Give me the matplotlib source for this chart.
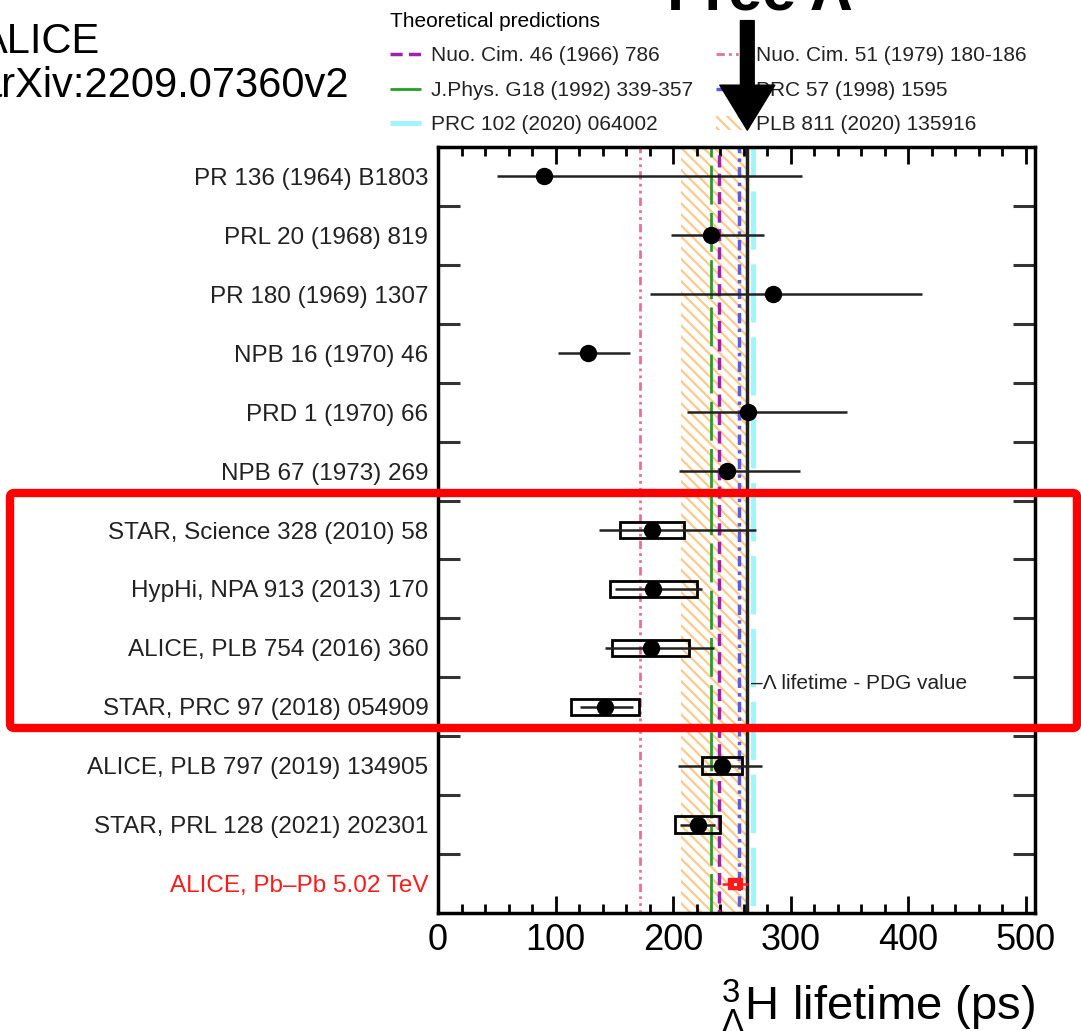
import numpy as np
import matplotlib.pyplot as plt
from matplotlib.patches import FancyBboxPatch
from matplotlib.ticker import MultipleLocator, FixedLocator

plt.rcParams['font.family'] = ['Liberation Sans', 'DejaVu Sans']
plt.rcParams['mathtext.fontset'] = 'custom'
plt.rcParams['mathtext.rm'] = 'Liberation Sans'
plt.rcParams['mathtext.it'] = 'Liberation Sans:italic'
plt.rcParams['hatch.linewidth'] = 1.6

# measurements (ps)
labels = ['PR 136 (1964) B1803', 'PRL 20 (1968) 819', 'PR 180 (1969) 1307',
          'NPB 16 (1970) 46', 'PRD 1 (1970) 66', 'NPB 67 (1973) 269',
          'STAR, Science 328 (2010) 58', 'HypHi, NPA 913 (2013) 170',
          'ALICE, PLB 754 (2016) 360', 'STAR, PRC 97 (2018) 054909',
          'ALICE, PLB 797 (2019) 134905', 'STAR, PRL 128 (2021) 202301',
          'ALICE, Pb\u2013Pb 5.02 TeV']
tau = [90, 232, 285, 128, 264, 246, 182, 183, 181, 142, 242, 221, 253]
err_lo = [40, 34, 105, 26, 52, 41, 45, 32, 39, 21, 38, 15, 11]
err_hi = [220, 45, 127, 35, 84, 62, 89, 42, 54, 24, 34, 15, 11]
syst = [np.nan] * 6 + [27, 37, 33, 29, 17, 19, 6]

# theory
th_names = ['Nuo. Cim. 46 (1966) 786', 'Nuo. Cim. 51 (1979) 180-186',
            'J.Phys. G18 (1992) 339-357', 'PRC 57 (1998) 1595',
            'PRC 102 (2020) 064002', 'PLB 811 (2020) 135916']
th_vals = [239.3, 172, 232, 256, 268]
th_band = (207, 262)
tau_lambda = 263.2

W, H = 1081, 1031
fig = plt.figure(figsize=(W / 100, H / 100), dpi=100)
ax = fig.add_axes([438 / W, 1 - 913 / H, 597 / W, 766 / H])

rows = np.arange(len(labels))
n_old = 12

# theory lines
band = ax.axvspan(th_band[0], th_band[1], facecolor='none', edgecolor='#ffc98c',
                  hatch='\\\\\\', lw=0, zorder=1, label=th_names[5])
l1, = ax.plot([th_vals[0]] * 2, [-1, 14], color='#a020b0', lw=2.5,
              ls=(0, (3.5, 1.8)), zorder=2, label=th_names[0])
l2, = ax.plot([th_vals[1]] * 2, [-1, 14], color='#e8709a', lw=2,
              ls=(0, (3, 1.5, 1, 1.5, 1, 1.5)), zorder=2, label=th_names[1])
l3, = ax.plot([th_vals[2]] * 2, [-1, 14], color='#22a022', lw=2,
              ls=(0, (14, 3)), zorder=2, label=th_names[2])
l4, = ax.plot([th_vals[3]] * 2, [-1, 14], color='#5a5ae8', lw=2.5,
              ls=(0, (3, 1.5, 1, 1.5)), zorder=2, label=th_names[3])
l5, = ax.plot([th_vals[4]] * 2, [-1, 14], color='#9ff5f8', lw=3.5,
              ls=(0, (12, 3)), zorder=1.5, label=th_names[4])
ax.axvline(tau_lambda, color='#222222', lw=2.5, zorder=2.5)

# measurements
tau = np.array(tau, dtype=float)
lo = np.array(err_lo, dtype=float)
hi = np.array(err_hi, dtype=float)
sy = np.array(syst, dtype=float)

ax.errorbar(tau[:n_old], rows[:n_old], xerr=[lo[:n_old], hi[:n_old]], fmt='o',
            color='black', ecolor='#222222', elinewidth=1.8, capsize=0,
            markersize=11.5, zorder=5)
has_sys = ~np.isnan(sy[:n_old])
ax.barh(rows[:n_old][has_sys], 2 * sy[:n_old][has_sys],
        left=tau[:n_old][has_sys] - sy[:n_old][has_sys], height=0.28,
        fill=False, edgecolor='black', lw=2, zorder=4)
ax.barh(rows[n_old:], 2 * sy[n_old:], left=tau[n_old:] - sy[n_old:],
        height=0.19, color='#ff1a1a', edgecolor='#ff1a1a', lw=1, zorder=4)
ax.errorbar(tau[n_old:], rows[n_old:], xerr=[lo[n_old:], hi[n_old:]], fmt='s',
            color='#ff1a1a', elinewidth=1.8, capsize=0, markersize=3,
            mfc='white', mec='#ff1a1a', mew=0.8, zorder=5)

ax.text(tau_lambda + 3, 8.6, '\u2013\u039b lifetime - PDG value', fontsize=15,
        va='center', ha='left', color='#222222')

# axes
ax.set_xlim(0, 508)
ax.set_ylim(12.5, -0.5)
ax.xaxis.set_major_locator(MultipleLocator(100))
ax.xaxis.set_minor_locator(MultipleLocator(20))
ax.tick_params(axis='x', which='major', direction='in', top=True, length=12,
               width=2, labelsize=26, pad=7)
ax.tick_params(axis='x', which='minor', direction='in', top=True, length=6.5,
               width=2)
ax.set_yticks(rows, labels)
ax.yaxis.set_minor_locator(FixedLocator(np.arange(0.5, 12, 1.0)))
ax.tick_params(axis='y', which='major', length=0, labelsize=17.5, pad=7,
               labelcolor='#222222')
ax.tick_params(axis='y', which='minor', direction='in', right=True, length=16,
               width=2.2, color='#333333')
ax.get_yticklabels()[-1].set_color('#ff1a1a')
for s in ax.spines.values():
    s.set_linewidth(2.5)

ax.set_xlabel(r'${}^{3}_{\Lambda}$H lifetime (ps)', loc='right', fontsize=34,
              labelpad=14)

leg = ax.legend(handles=[l1, l3, l5, l2, l4, band], ncol=2, frameon=False,
                title='Theoretical predictions', alignment='left',
                fontsize=15, title_fontsize=15, loc='upper left',
                bbox_to_anchor=(390 / W, 1 - 12 / H), bbox_transform=fig.transFigure,
                handlelength=1.5, handletextpad=0.45, columnspacing=1.1,
                labelspacing=0.74, borderpad=0, borderaxespad=0)
for t in leg.get_texts():
    t.set_color('#222222')

# arrow pointing at the free Lambda lifetime
ax.annotate('', xy=(tau_lambda, 1.022), xytext=(tau_lambda, 1.165),
            xycoords=ax.get_xaxis_transform(), textcoords=ax.get_xaxis_transform(),
            arrowprops=dict(arrowstyle='simple,head_length=0.72,head_width=0.88,tail_width=0.22',
                            fc='black', ec='black', mutation_scale=45,
                            shrinkA=0, shrinkB=0),
            annotation_clip=False, zorder=20)

fig.text(759 / W, 1 - 10 / H, 'Free \u039b', ha='center', va='baseline',
         fontsize=44, fontweight='bold')
fig.text(-20 / W, 1 - 53 / H, 'ALICE', fontsize=30, va='baseline', ha='left')
fig.text(-22 / W, 1 - 97 / H, 'arXiv:2209.07360v2', fontsize=30,
         va='baseline', ha='left')

# highlight box
fig.add_artist(FancyBboxPatch((10 / W, 1 - 728 / H), 1067 / W, 235 / H,
                              boxstyle='round,pad=0,rounding_size=0.004',
                              transform=fig.transFigure, fill=False,
                              edgecolor='#ff0000', lw=6, zorder=30))

fig.savefig('out.png', dpi=100)
